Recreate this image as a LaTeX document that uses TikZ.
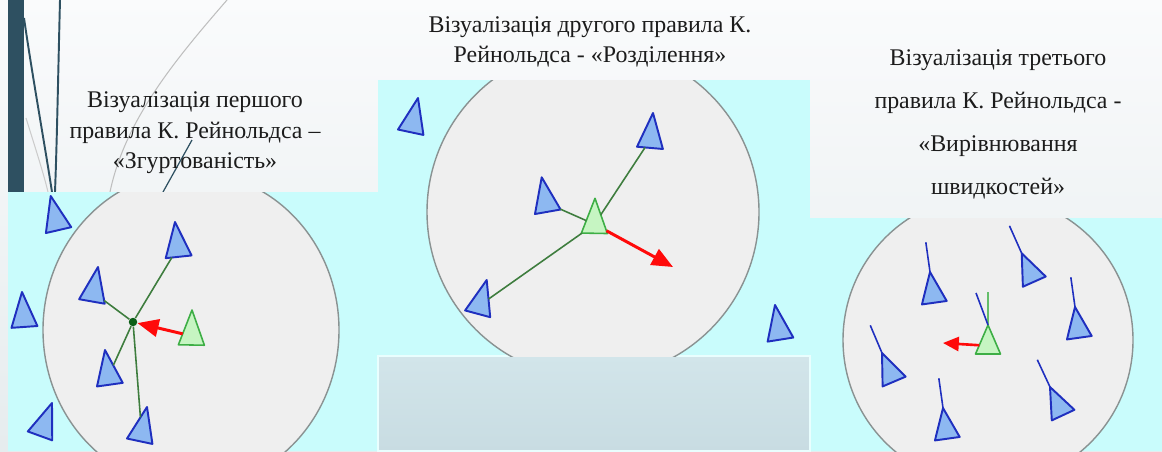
\documentclass[tikz,border=0pt]{standalone}
\usepackage{fontspec}
\setmainfont{Liberation Serif}
\definecolor{flockCyan}{HTML}{C9FCFC}
\definecolor{zoneFill}{HTML}{EFEFEF}
\definecolor{zoneEdge}{HTML}{8A9292}
\definecolor{boidFill}{HTML}{8DB8F1}
\definecolor{boidEdge}{HTML}{1F2FBF}
\definecolor{selfFill}{HTML}{C6F5C2}
\definecolor{selfEdge}{HTML}{3DAE45}
\definecolor{linkGreen}{HTML}{3E7D3E}
\definecolor{hubGreen}{HTML}{0B5E16}
\definecolor{pushRed}{HTML}{FF0A0A}
\definecolor{barSlate}{HTML}{2E5061}
\definecolor{lowTop}{HTML}{D2E5EA}
\definecolor{lowBottom}{HTML}{C8DCE2}
\definecolor{slideTop}{HTML}{FAFBFC}
\definecolor{slideBottom}{HTML}{E6ECEE}
\definecolor{titleBlack}{HTML}{1C1C1C}
\usetikzlibrary{arrows.meta, shapes.geometric, calc}
\tikzset{
    boid/.style={isosceles triangle, isosceles triangle stretches, draw=boidEdge, fill=boidFill, line width=1.1pt, line join=round, inner sep=0pt, outer sep=0pt, minimum height=0.7cm, minimum width=0.52cm, anchor=apex},
    boid size small/.style={minimum height=0.62cm, minimum width=0.5cm},
    self boid/.style={boid, draw=selfEdge, fill=selfFill, line width=0.9pt},
    hub/.style={circle, fill=hubGreen, inner sep=0pt, minimum size=0.17cm},
    zone/.style={fill=zoneFill, draw=zoneEdge, line width=0.8pt},
    link/.style={draw=linkGreen, line width=0.9pt},
    heading/.style={draw=boidEdge, line width=0.9pt},
    push arrow/.style={-{Triangle[length=12pt, width=10pt]}, line width=1.7pt, draw=pushRed, fill=pushRed},
    title text/.style={font=\fontsize{13.6}{17.4}\selectfont, align=center, text=titleBlack, inner sep=0pt},
    wisp/.style={line width=1.1pt, draw=barSlate},
}

\begin{document}
\begin{tikzpicture}[x=0.02cm, y=-0.02cm]
    \useasboundingbox (0,0) rectangle (1162,451);

    % Slide background
    \shade[top color=slideTop, bottom color=slideBottom] (0,0) rectangle (1162,451);
    \fill[barSlate] (8,0) rectangle (24,192);
    \draw[wisp] (24,18) .. controls (33,80) and (44,140) .. (52,192);
    \draw[wisp] (60,0) .. controls (58,80) and (57,140) .. (55,192);
    \draw[wisp, draw=black!25, line width=0.6pt] (227,0) .. controls (175,60) and (125,120) .. (110,192);
    \draw[wisp, draw=black!20, line width=0.6pt] (26,118) .. controls (36,150) and (44,175) .. (48,192);
    \draw[wisp, line width=0.7pt] (192,140) -- (163,192);

    % Panels
    \fill[flockCyan] (8,192) rectangle (380,451);
    \fill[flockCyan] (378,80) rectangle (810,356);
    \fill[flockCyan] (810,218) rectangle (1162,451);
    \shade[top color=lowTop, bottom color=lowBottom, draw=white!60!flockCyan, line width=0.6pt] (378,356) rectangle (810,451);

    % Neighbourhoods
    \begin{scope}
        \clip (8,192) rectangle (380,451);
        \draw[zone] (191,330) ellipse [x radius=148, y radius=158];
    \end{scope}
    \begin{scope}
        \clip (378,80) rectangle (810,356);
        \draw[zone] (593,212) circle [radius=166];
    \end{scope}
    \begin{scope}
        \clip (810,218) rectangle (1162,451);
        \draw[zone] (988,340) circle [radius=145];
    \end{scope}

    % Titles
    \node[title text] (cohesion) at (195,133) {Візуалізація першого\\правила К. Рейнольдса –\\«Згуртованість»};
    \node[title text] (separation) at (590,42) {Візуалізація другого правила К.\\Рейнольдса - «Розділення»};
    \node[title text, font=\fontsize{13.6}{24.5}\selectfont] (alignment) at (998,124) {Візуалізація третього\\правила К. Рейнольдса -\\«Вирівнювання\\швидкостей»};

    % Cohesion
    \node[boid, rotate=103] (t1) at (50.7,196) {};
    \node[boid, rotate=96] (t2) at (175,222) {};
    \node[boid, rotate=80] (t3) at (98,267) {};
    \node[boid, rotate=94] (t4) at (22,292) {};
    \node[boid, rotate=98] (t5) at (105,350) {};
    \node[boid, rotate=70] (t6) at (52,403) {};
    \node[boid, rotate=78] (t7) at (147,407) {};
    \node[self boid, rotate=89] (g1) at (192,310) {};
    \node[hub] (centre) at (133,322) {};
    \draw[link] (centre) -- (t2);
    \draw[link] (centre) -- (t3);
    \draw[link] (centre) -- (t5);
    \draw[link] (centre) -- (t7);
    \draw[push arrow] (g1) -- (centre);

    % Separation
    \node[boid, rotate=78] (p1) at (418,98) {};
    \node[boid, rotate=85] (p2) at (653,113) {};
    \node[boid, rotate=100] (p3) at (541.7,177.3) {};
    \node[boid, rotate=75] (p4) at (486.7,280) {};
    \node[boid, rotate=99] (p5) at (775,305) {};
    \node[self boid, rotate=89] (g2) at (595,198.3) {};
    \coordinate (g2push) at (673,267);
    \draw[link] (g2) -- (p2);
    \draw[link] (g2) -- (p3);
    \draw[link] (g2) -- (p4);
    \draw[push arrow] (g2) -- (g2push);

    % Alignment
    \node[boid, boid size small, rotate=98] (b1) at (930,272) {};
    \node[boid, boid size small, rotate=114] (b2) at (1021.7,253.3) {};
    \node[boid, boid size small, rotate=98] (b3) at (1075,307) {};
    \node[boid, boid size small, rotate=113] (b4) at (882,353) {};
    \node[boid, boid size small, rotate=98] (b5) at (943,408) {};
    \node[boid, boid size small, rotate=115] (b6) at (1050,387) {};
    \foreach \b in {b1,b2,b3,b4,b5,b6} {
        \coordinate (\b tip) at ($(\b.apex)!-0.97!(\b.lower side)$);
        \draw[heading] (\b.apex) -- (\b tip);
    }
    \node[self boid, boid size small, minimum height=0.58cm, rotate=90] (g3) at (988,325) {};
    \coordinate (g3tip) at (988,292);
    \coordinate (g3mean) at (976,293);
    \coordinate (g3push) at (943,343);
    \draw[link, draw=selfEdge!80] (g3.apex) -- (g3tip);
    \draw[heading] (g3.apex) -- (g3mean);
    \draw[push arrow, -{Triangle[length=9pt, width=8pt]}, line width=1.5pt] (g3) -- (g3push);
\end{tikzpicture}
\end{document}
